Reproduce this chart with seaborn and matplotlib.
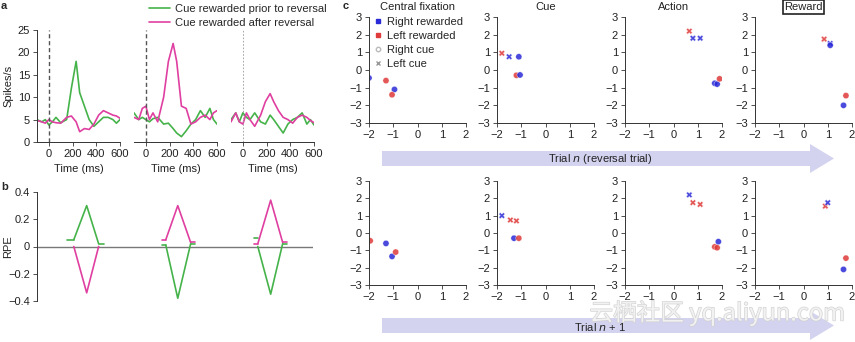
import numpy as np
import pandas as pd
import matplotlib
matplotlib.use("Agg")
import matplotlib.pyplot as plt
import matplotlib.patches as mpatches
import matplotlib.patheffects as pe
from matplotlib.lines import Line2D
import seaborn as sns

sns.set_style("ticks")
plt.rcParams['font.family'] = ['Liberation Sans', 'DejaVu Sans']
plt.rcParams['axes.linewidth'] = 0.7

# ---------------- data: panel a (firing rates) ----------------
a_time = [-100, -60, -30, 0, 30, 60, 100, 150, 190, 230, 260, 300, 340, 380, 420, 460, 500, 540, 570, 600]
a_green_1 = [5.0, 4.5, 5.0, 3.8, 4.5, 5.5, 4.3, 5.0, 12.0, 18.0, 11.0, 8.0, 5.0, 3.5, 4.5, 5.5, 5.5, 5.0, 4.2, 5.0]
a_pink_1 = [4.8, 4.5, 4.2, 5.0, 4.5, 4.3, 4.2, 5.5, 5.8, 4.5, 2.3, 3.0, 2.8, 4.0, 6.0, 7.0, 6.5, 6.0, 5.8, 5.3]
a_green_2 = [6.5, 5.0, 5.5, 5.0, 4.5, 5.2, 5.5, 4.0, 4.2, 3.0, 2.0, 1.2, 2.5, 4.0, 5.0, 7.0, 5.5, 7.5, 5.0, 4.0]
a_pink_2 = [5.5, 5.0, 7.5, 8.0, 5.0, 6.5, 4.5, 10.0, 18.0, 22.0, 18.0, 8.0, 7.5, 4.0, 4.5, 5.5, 6.0, 5.0, 6.5, 7.0]
a_green_3 = [5.0, 6.5, 4.5, 6.5, 5.5, 5.0, 6.5, 4.5, 4.0, 6.0, 5.0, 3.5, 2.0, 4.0, 5.0, 5.5, 6.5, 4.0, 5.0, 3.8]
a_pink_3 = [4.5, 6.5, 4.5, 4.0, 6.5, 5.0, 3.5, 6.0, 9.0, 10.8, 9.0, 7.0, 5.5, 5.0, 4.2, 5.5, 6.0, 5.5, 4.8, 4.3]
a_xticks = [0, 200, 400, 600]
a_yticks = [0, 5, 10, 15, 20, 25]
legend_labels = ["Cue rewarded prior to reversal", "Cue rewarded after reversal"]

# ---------------- data: panel b (RPE) ----------------
b_green_x = [[0.33, 0.40], [0.40, 0.54, 0.67], [0.67, 0.73],
             [1.36, 1.40], [1.40, 1.53, 1.67], [1.67, 1.72],
             [2.36, 2.40], [2.40, 2.54, 2.67], [2.67, 2.72]]
b_green_y = [[0.05, 0.05], [0.05, 0.30, 0.02], [0.02, 0.02],
             [0.01, 0.01], [0.01, -0.38, 0.02], [0.02, 0.02],
             [0.06, 0.06], [0.00, -0.35, 0.02], [0.02, 0.02]]
b_pink_x = [[0.40, 0.54, 0.67],
            [1.36, 1.40], [1.40, 1.53, 1.67], [1.67, 1.72],
            [2.36, 2.40], [2.40, 2.54, 2.67], [2.67, 2.72]]
b_pink_y = [[0.00, -0.34, 0.00],
            [0.05, 0.05], [0.05, 0.30, 0.03], [0.03, 0.03],
            [0.02, 0.02], [0.02, 0.34, 0.03], [0.03, 0.03]]
b_yticks = [-0.4, -0.2, 0, 0.2, 0.4]
b_yticklabels = ["\u22120.4", "\u22120.2", "0", "0.2", "0.4"]

# ---------------- data: panel c (state-space scatter) ----------------
epochs = ["Central fixation", "Cue", "Action", "Reward"]
c_ticks_x = [-2, -1, 0, 1, 2]
c_ticks_y = [-3, -2, -1, 0, 1, 2, 3]
# trial n (reversal trial)
n_x = [[-2.0, -0.95, -1.3, -1.05],
       [-1.8, -1.5, -1.1, -1.2, -1.05],
       [0.65, 0.8, 1.1, 1.7, 1.8, 1.9],
       [0.85, 1.1, 1.1, 1.75, 1.65]]
n_y = [[-0.45, -1.1, -0.6, -1.4],
       [0.95, 0.75, 0.75, -0.3, -0.28],
       [2.2, 1.8, 1.8, -0.75, -0.8, -0.5],
       [1.75, 1.5, 1.4, -1.45, -2.0]]
n_rew = [["Right", "Right", "Left", "Left"],
         ["Left", "Right", "Right", "Left", "Right"],
         ["Left", "Right", "Right", "Right", "Right", "Left"],
         ["Left", "Right", "Right", "Left", "Right"]]
n_cue = [["Right cue", "Right cue", "Right cue", "Right cue"],
         ["Left cue", "Left cue", "Right cue", "Right cue", "Right cue"],
         ["Left cue", "Left cue", "Left cue", "Right cue", "Right cue", "Right cue"],
         ["Left cue", "Left cue", "Right cue", "Right cue", "Right cue"]]
# trial n + 1
n1_x = [[-1.95, -1.3, -1.05, -0.9],
        [-1.8, -1.45, -1.2, -1.3, -1.1],
        [0.65, 0.8, 1.1, 1.7, 1.8, 1.85],
        [0.9, 1.0, 1.75, 1.65]]
n1_y = [[-0.45, -0.6, -1.35, -1.1],
        [1.0, 0.75, 0.7, -0.3, -0.3],
        [2.2, 1.75, 1.65, -0.8, -0.85, -0.5],
        [1.55, 1.75, -1.45, -2.1]]
n1_rew = [["Left", "Right", "Right", "Left"],
          ["Right", "Left", "Left", "Right", "Left"],
          ["Right", "Left", "Left", "Left", "Left", "Right"],
          ["Left", "Right", "Left", "Right"]]
n1_cue = [["Right cue", "Right cue", "Right cue", "Right cue"],
          ["Left cue", "Left cue", "Left cue", "Right cue", "Right cue"],
          ["Left cue", "Left cue", "Left cue", "Right cue", "Right cue", "Right cue"],
          ["Left cue", "Left cue", "Right cue", "Right cue"]]
c_legend = ["Right rewarded", "Left rewarded", "Right cue", "Left cue"]

GREEN = "#45b34a"
PINK = "#df3fa0"
BLUE = "#2a2ad8"
RED = "#e03a3a"
ARROW = "#d3d3f0"
TXT = "#222222"
FS = 8

W, H = 855, 342
fig = plt.figure(figsize=(W / 100, H / 100), dpi=100)


def add_ax(l, t, r, b):
    return fig.add_axes([l / W, 1 - b / H, (r - l) / W, (b - t) / H])


def style_ax(ax, fs=FS):
    ax.tick_params(labelsize=fs, length=3, width=0.6, colors="#333333", labelcolor=TXT, pad=2)
    for s in ax.spines.values():
        s.set_color("#333333")
        s.set_linewidth(0.7)
    sns.despine(ax=ax)


# ---------------- panel a ----------------
a_greens = [a_green_1, a_green_2, a_green_3]
a_pinks = [a_pink_1, a_pink_2, a_pink_3]
a_lefts = [37, 134, 231]
for i in range(3):
    ax = add_ax(a_lefts[i], 30, a_lefts[i] + 83, 142)
    sns.lineplot(x=a_time, y=a_greens[i], ax=ax, color=GREEN, lw=1.2)
    sns.lineplot(x=a_time, y=a_pinks[i], ax=ax, color=PINK, lw=1.2)
    ax.set_xlim(-100, 600)
    ax.set_ylim(0, 25)
    ax.set_xticks(a_xticks)
    ax.set_xlabel("Time (ms)", fontsize=FS, color=TXT, labelpad=4)
    style_ax(ax)
    if i < 2:
        ax.axvline(0, color="#555555", lw=1.0, ls=(0, (3, 2)))
    else:
        ax.axvline(0, color="#999999", lw=0.6, ls=(0, (2, 2)))
    if i == 0:
        ax.set_yticks(a_yticks)
        ax.set_ylabel("Spikes/s", fontsize=FS, color=TXT)
        ax.yaxis.set_label_coords((13 - 37) / 83, 0.5)
    else:
        ax.set_yticks([])
        ax.spines["left"].set_visible(False)
    ax.set_facecolor("none")

handles = [Line2D([], [], color=GREEN, lw=1.2), Line2D([], [], color=PINK, lw=1.2)]
fig.legend(handles, legend_labels, loc="upper left", bbox_to_anchor=(149 / W, 1 - 4 / H),
           frameon=False, fontsize=FS, handlelength=1.9, handletextpad=0.45,
           labelspacing=0.35, borderaxespad=0, borderpad=0)

# ---------------- panel b ----------------
axb = add_ax(37, 192, 313, 301)
for xs, ys in zip(b_green_x, b_green_y):
    sns.lineplot(x=xs, y=ys, ax=axb, color=GREEN, lw=1.2, sort=False)
for xs, ys in zip(b_pink_x, b_pink_y):
    sns.lineplot(x=xs, y=ys, ax=axb, color=PINK, lw=1.2, sort=False)
axb.axhline(0, color="#777777", lw=1.0, zorder=0)
axb.set_xlim(0, 3)
axb.set_ylim(-0.4, 0.4)
axb.set_yticks(b_yticks)
axb.set_yticklabels(b_yticklabels)
axb.set_xticks([])
axb.set_ylabel("RPE", fontsize=FS, color=TXT)
axb.yaxis.set_label_coords((13 - 37) / 276, 0.5)
style_ax(axb)
axb.spines["bottom"].set_visible(False)
axb.set_facecolor("none")

# ---------------- panel c ----------------
c_lefts = [369, 497, 625, 755]
rows = [(17, 123, n_x, n_y, n_rew, n_cue), (181, 285, n1_x, n1_y, n1_rew, n1_cue)]
for r, (top, bot, xs_l, ys_l, rew_l, cue_l) in enumerate(rows):
    for j in range(4):
        ax = add_ax(c_lefts[j], top, c_lefts[j] + 97, bot)
        df = pd.DataFrame({"x": xs_l[j], "y": ys_l[j], "rew": rew_l[j], "cue": cue_l[j]})
        sns.scatterplot(data=df, x="x", y="y", hue="rew", style="cue",
                        palette={"Right": BLUE, "Left": RED},
                        markers={"Right cue": "o", "Left cue": "X"},
                        s=20, alpha=0.85, edgecolor="white", linewidth=0.3,
                        legend=False, ax=ax)
        ax.set_xlim(-2, 2)
        ax.set_ylim(-3, 3)
        ax.set_xticks(c_ticks_x)
        ax.set_yticks(c_ticks_y)
        ax.set_xlabel("")
        ax.set_ylabel("")
        style_ax(ax)
        ax.set_facecolor("none")
        if r == 0:
            if j == 3:
                ax.set_title(epochs[j], fontsize=FS, color=TXT, pad=5,
                             bbox=dict(boxstyle="square,pad=0.15", fc="white", ec="#222222", lw=1.2))
            else:
                ax.set_title(epochs[j], fontsize=FS, color=TXT, pad=5)
        if r == 0 and j == 0:
            lh = [Line2D([], [], ls="", marker="s", ms=3.2, color=BLUE),
                  Line2D([], [], ls="", marker="s", ms=3.2, color=RED),
                  Line2D([], [], ls="", marker="o", ms=3.2, mfc="none", mec="#bbbbbb"),
                  Line2D([], [], ls="", marker="x", ms=2.8, color="#999999")]
            ax.legend(lh, c_legend, loc="upper left", bbox_to_anchor=(0.05, 1.0),
                      frameon=False, fontsize=FS, handlelength=0.7, handletextpad=0.45,
                      labelspacing=0.35, borderaxespad=0, borderpad=0)

# ---------------- arrows ----------------
def fig_arrow(x0, x1, xh, ymid, hb, hh):
    pts = [(x0, ymid - hb), (xh, ymid - hb), (xh, ymid - hh), (x1, ymid),
           (xh, ymid + hh), (xh, ymid + hb), (x0, ymid + hb)]
    pts = [(px / W, 1 - py / H) for px, py in pts]
    fig.patches.append(mpatches.Polygon(pts, closed=True, transform=fig.transFigure,
                                        fc=ARROW, ec="none", zorder=0))

fig_arrow(382, 834, 810, 158.5, 7.5, 14.5)
fig_arrow(382, 834, 810, 325.5, 7.5, 14.5)
fig.text(600 / W, 1 - 158.5 / H, r"Trial $\mathit{n}$ (reversal trial)", fontsize=FS,
         color=TXT, ha="center", va="center")
fig.text(600 / W, 1 - 327 / H, r"Trial $\mathit{n}$ + 1", fontsize=FS,
         color=TXT, ha="center", va="center")

# ---------------- panel labels ----------------
fig.text(1 / W, 1 - 1 / H, "a", fontsize=FS, fontweight="bold", ha="left", va="top")
fig.text(1 / W, 1 - 182 / H, "b", fontsize=FS, fontweight="bold", ha="left", va="top")
fig.text(343 / W, 1 - 1 / H, "c", fontsize=FS, fontweight="bold", ha="left", va="top")

# ---------------- watermark ----------------
wm = fig.text(845 / W, 1 - 313 / H, "云栖社区 yq.aliyun.com", fontsize=17,
              family=["Noto Sans CJK SC", "DejaVu Sans"], color="#f4f4f4",
              ha="right", va="center", zorder=10, alpha=0.9)
wm.set_path_effects([pe.withStroke(linewidth=1.0, foreground="#d0d0d0")])

fig.savefig("out.png", dpi=100)
